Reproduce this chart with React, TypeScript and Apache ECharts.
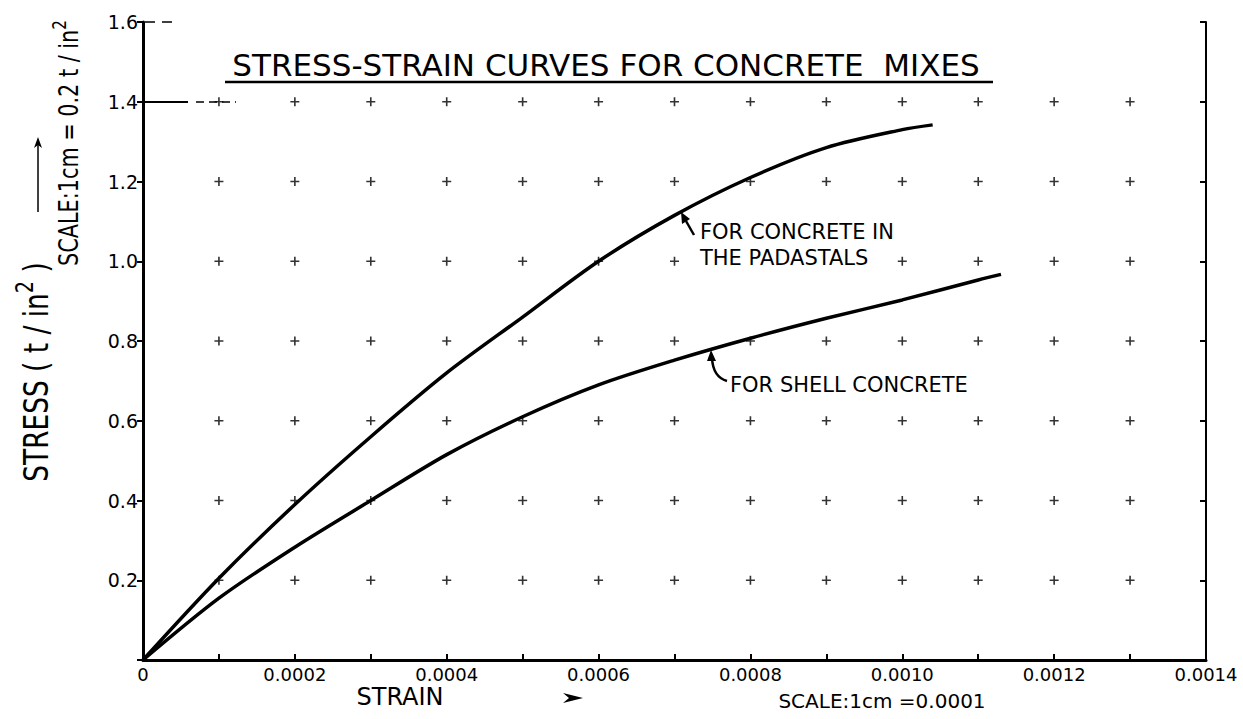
import React, { useEffect, useRef } from "react";
import * as echarts from "echarts";

const xTickLabels = ["0", "0.0002", "0.0004", "0.0006", "0.0008", "0.0010", "0.0012", "0.0014"];
const yTickLabels = ["0", "0.2", "0.4", "0.6", "0.8", "1.0", "1.2", "1.4", "1.6"];

// grid cross positions (graph-paper marks)
const gridStrain = [0.0001, 0.0002, 0.0003, 0.0004, 0.0005, 0.0006, 0.0007, 0.0008, 0.0009, 0.001, 0.0011, 0.0012, 0.0013];
const gridStress = [0.2, 0.4, 0.6, 0.8, 1.0, 1.2, 1.4];

const padastalStrain = [0, 0.0001, 0.0002, 0.0003, 0.0004, 0.0005, 0.0006, 0.0007, 0.0008, 0.0009, 0.001, 0.00104];
const padastalStress = [0, 0.205, 0.39, 0.56, 0.72, 0.86, 1.0, 1.115, 1.21, 1.285, 1.33, 1.342];

const shellStrain = [0, 0.0001, 0.0002, 0.0003, 0.0004, 0.0005, 0.0006, 0.0007, 0.0008, 0.0009, 0.001, 0.0011, 0.00113];
const shellStress = [0, 0.155, 0.283, 0.4, 0.515, 0.61, 0.69, 0.752, 0.807, 0.857, 0.903, 0.953, 0.967];

const FONT = "DejaVu Sans";

export default function App() {
  const ref = useRef<HTMLDivElement>(null);
  useEffect(() => {
    if (!ref.current) return;
    const chart = echarts.init(ref.current, undefined, { renderer: "svg" });
    const crosses: number[][] = [];
    gridStrain.forEach((x) => gridStress.forEach((y) => crosses.push([x, y])));
    const zip = (a: number[], b: number[]) => a.map((v, i) => [v, b[i]]);

    chart.setOption({
      animation: false,
      backgroundColor: "#fff",
      grid: { left: 143, right: 37, top: 22, bottom: 59 },
      xAxis: {
        type: "value",
        min: 0,
        max: 0.0014,
        interval: 0.0001,
        axisLine: { show: true, lineStyle: { color: "#000", width: 3 } },
        axisTick: { show: true, inside: true, length: 6, lineStyle: { color: "#000", width: 2 } },
        splitLine: { show: false },
        axisLabel: {
          color: "#000",
          fontFamily: FONT,
          fontSize: 18,
          margin: 5,
          showMinLabel: true,
          showMaxLabel: true,
          formatter: (v: number) => {
            const i = Math.round(v * 10000);
            return i % 2 === 0 ? xTickLabels[i / 2] : "";
          },
        },
      },
      yAxis: [
        {
          type: "value",
          min: 0,
          max: 1.6,
          interval: 0.2,
          axisLine: { show: true, lineStyle: { color: "#000", width: 3 } },
          axisTick: { show: true, length: 6, lineStyle: { color: "#000", width: 2 } },
          splitLine: { show: false },
          axisLabel: {
            color: "#000",
            fontFamily: FONT,
            fontSize: 19,
            margin: 5,
            formatter: (v: number) => {
              const i = Math.round(v * 5);
              return i === 0 ? "" : yTickLabels[i];
            },
          },
        },
        {
          type: "value",
          position: "right",
          min: 0,
          max: 1.6,
          interval: 0.2,
          axisLine: { show: true, lineStyle: { color: "#000", width: 2 } },
          axisTick: { show: true, inside: true, length: 6, lineStyle: { color: "#000", width: 2 } },
          axisLabel: { show: false },
          splitLine: { show: false },
        },
      ],
      series: [
        {
          type: "scatter",
          data: crosses,
          symbol: "path://M4.1,0h1.8v10h-1.8z M0,4.1h10v1.8h-10z",
          symbolSize: 9,
          itemStyle: { color: "#000" },
          silent: true,
          z: 1,
        },
        {
          name: "FOR CONCRETE IN THE PADASTALS",
          type: "line",
          data: zip(padastalStrain, padastalStress),
          smooth: 0.3,
          showSymbol: false,
          lineStyle: { color: "#000", width: 3.5 },
          z: 3,
        },
        {
          name: "FOR SHELL CONCRETE",
          type: "line",
          data: zip(shellStrain, shellStress),
          smooth: 0.3,
          showSymbol: false,
          lineStyle: { color: "#000", width: 3.5 },
          z: 3,
        },
      ],
      graphic: [
        { type: "line", shape: { x1: 143, y1: 102, x2: 188, y2: 102 }, style: { stroke: "#000", lineWidth: 2 } },
        { type: "line", shape: { x1: 196, y1: 102, x2: 236, y2: 102 }, style: { stroke: "#000", lineWidth: 1.5, lineDash: [8, 5] } },
        { type: "line", shape: { x1: 145, y1: 22, x2: 178, y2: 22 }, style: { stroke: "#000", lineWidth: 1.5, lineDash: [10, 7] } },
        {
          type: "text",
          x: 606,
          y: 65,
          style: {
            text: "STRESS-STRAIN CURVES FOR CONCRETE  MIXES",
            fontFamily: FONT,
            fontSize: 31,
            fill: "#000",
            align: "center",
            verticalAlign: "middle",
          },
        },
        { type: "line", shape: { x1: 225, y1: 82, x2: 993, y2: 82 }, style: { stroke: "#000", lineWidth: 2.5 } },
        {
          type: "text",
          x: 700,
          y: 245,
          z: 10,
          style: {
            text: "FOR CONCRETE IN\nTHE PADASTALS",
            fontFamily: FONT,
            fontSize: 21,
            lineHeight: 26,
            fill: "#000",
            align: "left",
            verticalAlign: "middle",
            letterSpacing: 0.5,
            backgroundColor: "#fff",
          },
        },
        {
          type: "text",
          x: 730,
          y: 385,
          z: 10,
          style: {
            text: "FOR SHELL CONCRETE",
            fontFamily: FONT,
            fontSize: 21,
            fill: "#000",
            align: "left",
            verticalAlign: "middle",
            letterSpacing: 0.5,
            backgroundColor: "#fff",
          },
        },
        { type: "line", shape: { x1: 686, y1: 221, x2: 694, y2: 235 }, style: { stroke: "#000", lineWidth: 2.5 } },
        { type: "polygon", shape: { points: [[681, 212], [690, 219], [682, 224]] }, style: { fill: "#000" } },
        {
          type: "bezierCurve",
          shape: { x1: 712, y1: 358, x2: 727, y2: 381, cpx1: 713, cpy1: 377 },
          style: { stroke: "#000", lineWidth: 2.5, fill: "none" },
        },
        { type: "polygon", shape: { points: [[711, 350], [716, 361], [707, 361]] }, style: { fill: "#000" } },
        {
          type: "text",
          x: 400,
          y: 697,
          style: { text: "STRAIN", fontFamily: FONT, fontSize: 24, fill: "#000", align: "center", verticalAlign: "middle", letterSpacing: 1 },
        },
        { type: "polygon", shape: { points: [[563, 693], [583, 698], [563, 703], [569, 698]] }, style: { fill: "#000" } },
        {
          type: "text",
          x: 882,
          y: 701,
          style: { text: "SCALE:1cm =0.0001", fontFamily: FONT, fontSize: 20, fill: "#000", align: "center", verticalAlign: "middle", letterSpacing: 0.5 },
        },
        {
          type: "text",
          x: 33,
          y: 372,
          rotation: Math.PI / 2,
          scaleX: 0.8,
          style: {
            text: "{a|STRESS ( t / in}{s|2}{a| )}",
            fill: "#000",
            align: "center",
            verticalAlign: "middle",
            rich: {
              a: { fontFamily: FONT, fontSize: 33, fill: "#000", verticalAlign: "bottom", lineHeight: 40 },
              s: { fontFamily: FONT, fontSize: 24, fill: "#000", verticalAlign: "top", lineHeight: 40 },
            },
          },
        },
        { type: "line", shape: { x1: 38, y1: 212, x2: 38, y2: 145 }, style: { stroke: "#000", lineWidth: 1.5 } },
        { type: "polygon", shape: { points: [[38, 137], [42, 148], [38, 145], [34, 148]] }, style: { fill: "#000" } },
        {
          type: "text",
          x: 66,
          y: 143,
          rotation: Math.PI / 2,
          scaleX: 0.8,
          style: {
            text: "{a|SCALE:1cm = 0.2 t / in}{s|2}",
            fill: "#000",
            align: "center",
            verticalAlign: "middle",
            rich: {
              a: { fontFamily: FONT, fontSize: 26, fill: "#000", verticalAlign: "bottom", lineHeight: 32 },
              s: { fontFamily: FONT, fontSize: 19, fill: "#000", verticalAlign: "top", lineHeight: 32 },
            },
          },
        },
      ],
    });
    return () => chart.dispose();
  }, []);
  return <div ref={ref} style={{ position: "fixed", left: 0, top: 0, width: 1243, height: 719 }} />;
}
